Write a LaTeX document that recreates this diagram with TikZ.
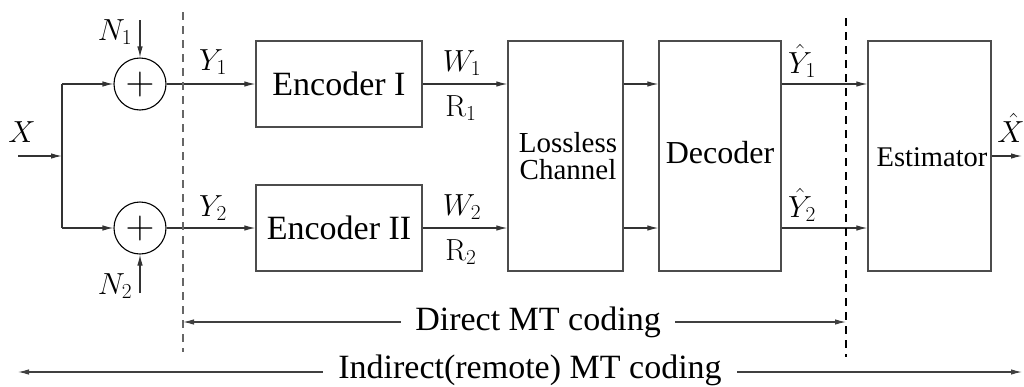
\RequirePackage{fix-cm}
\documentclass[tikz,border=0pt]{standalone}
\usepackage[no-math]{fontspec}
\setmainfont{Liberation Serif}
\usetikzlibrary{arrows.meta}
\begin{document}
\begin{tikzpicture}[x=1pt,y=-1pt,
  line width=1.1pt,
  >={Latex[length=11pt,width=5.5pt]},
  blk/.style={draw=black!70, line width=1.3pt, inner sep=0pt},
  sumnode/.style={draw=black, circle, minimum size=52pt, inner sep=0pt,
     font=\fontsize{40}{40}\selectfont},
  lbl/.style={inner sep=0pt, font=\fontsize{30.5}{30.5}\selectfont},
  bigtxt/.style={inner sep=0pt, font=\fontsize{34}{34}\selectfont},
  midtxt/.style={inner sep=0pt, font=\fontsize{29}{29}\selectfont},
  wire/.style={draw=black!80, ->},
  dashl/.style={dashed, dash pattern=on 8pt off 6pt, line width=1.1pt}
]
\useasboundingbox (0,0) rectangle (1024,386);

% blocks
\node[blk, minimum width=166pt, minimum height=86pt, font=\fontsize{34}{34}\selectfont] (enc1) at (339,84) {Encoder I};
\node[blk, minimum width=166pt, minimum height=86pt, font=\fontsize{34}{34}\selectfont] (enc2) at (339,228) {Encoder II};
\node[blk, minimum width=115pt, minimum height=230pt] (chan) at (565.5,156) {};
\node[midtxt, align=center] (chantxt) at (568,156) {Lossless\\[-2pt]Channel};
\node[blk, minimum width=122pt, minimum height=230pt] (dec) at (720,156) {};
\node[inner sep=0pt, font=\fontsize{32}{32}\selectfont] (dectxt) at (720,153) {Decoder};
\node[blk, minimum width=123pt, minimum height=230pt] (est) at (929.5,156) {};
\node[inner sep=0pt, font=\fontsize{28.5}{28.5}\selectfont] (esttxt) at (932,157) {Estimator};

% adders
\node[sumnode] (sum1) at (140,84) {$+$};
\node[sumnode] (sum2) at (140,228) {$+$};

% coordinates
\coordinate (xin) at (18,156);
\coordinate (br) at (62,156);
\coordinate (b1) at (62,84);
\coordinate (b2) at (62,228);
\coordinate (n1) at (140,20);
\coordinate (n2) at (140,293);
\coordinate (xout) at (1022,156);
\coordinate (d1t) at (183,12);
\coordinate (d1b) at (183,352);
\coordinate (d2t) at (846,18);
\coordinate (d2b) at (846,357);
\coordinate (il) at (18,372);
\coordinate (ir) at (1022,372);

% input and branches
\draw[wire] (xin) -- (br);
\draw[draw=black!80] (b1) -- (b2);
\draw[wire] (b1) -- (sum1);
\draw[wire] (b2) -- (sum2);
\draw[wire] (n1) -- (sum1);
\draw[wire] (n2) -- (sum2);

% main chain
\draw[wire] (sum1) -- (enc1);
\draw[wire] (sum2) -- (enc2);
\draw[wire] (enc1) -- (chan.west |- enc1);
\draw[wire] (enc2) -- (chan.west |- enc2);
\draw[wire] (chan.east |- enc1) -- (dec.west |- enc1);
\draw[wire] (chan.east |- enc2) -- (dec.west |- enc2);
\draw[wire] (dec.east |- enc1) -- (est.west |- enc1);
\draw[wire] (dec.east |- enc2) -- (est.west |- enc2);
\draw[wire] (est.east |- xout) -- (xout);

% labels
\node[lbl] (lx) at (22,132) {$X$};
\node[lbl] (ln1) at (115,32) {$N_1$};
\node[lbl] (ln2) at (115,286) {$N_2$};
\node[lbl] (ly1) at (213,62) {$Y_1$};
\node[lbl] (ly2) at (213,208) {$Y_2$};
\node[lbl] (lw1) at (462,63) {$W_1$};
\node[lbl] (lr1) at (461,108) {$\mathrm{R}_1$};
\node[lbl] (lw2) at (462,207) {$W_2$};
\node[lbl] (lr2) at (461,252) {$\mathrm{R}_2$};
\node[lbl] (lyh1) at (802,61) {$\hat{Y}_1$};
\node[lbl] (lyh2) at (802,205) {$\hat{Y}_2$};
\node[lbl] (lxh) at (1011,128) {$\hat{X}$};

% dashed separators
\draw[dashl, draw=black!60] (d1t) -- (d1b);
\draw[dashl, draw=black] (d2t) -- (d2b);

% range arrows
\node[bigtxt, inner xsep=14pt] (direct) at (538,322) {Direct MT coding};
\draw[wire, draw=black!75] (direct.west) -- (d1t |- direct);
\draw[wire, draw=black!75] (direct.east) -- (d2t |- direct);
\node[bigtxt, inner xsep=15pt] (indirect) at (530,370) {Indirect(remote) MT coding};
\draw[wire, draw=black!75] (indirect.west |- il) -- (il);
\draw[wire, draw=black!75] (indirect.east |- ir) -- (ir);
\end{tikzpicture}
\end{document}
